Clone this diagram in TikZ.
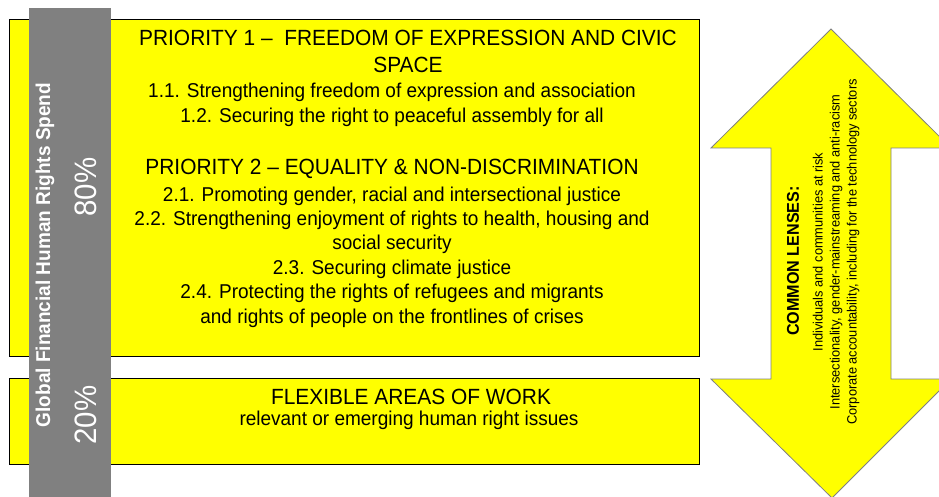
\documentclass[tikz,border=0pt]{standalone}
\usepackage{fontspec}
\setmainfont{Liberation Sans}[FakeStretch=0.95]
\definecolor{areayellow}{HTML}{FFFF00}
\definecolor{spendgray}{HTML}{808080}
\tikzset{
  areabox/.style={draw=black, line width=0.8pt, fill=areayellow},
  headtext/.style={align=center, inner sep=0pt, font=\fontsize{22}{27}\selectfont},
  itemtext/.style={align=center, inner sep=0pt, font=\fontsize{20}{24.4}\selectfont},
  spendtext/.style={rotate=90, inner sep=0pt, text=white},
  lenstext/.style={rotate=90, inner sep=0pt, align=center}
}
\begin{document}
\begin{tikzpicture}[x=1pt,y=-1pt]
\clip (0,0) rectangle (939,497);
\fill[white] (0,0) rectangle (939,497);
% the two areas of work
\draw[areabox] (9,19) rectangle (699,356);
\draw[areabox] (9,378) rectangle (699,464);
% spend bar
\fill[spendgray] (29,8) rectangle (111,500);
\node[spendtext, font=\bfseries\fontsize{20}{22}\selectfont] (spend) at (45,255)
  {Global Financial Human Rights Spend};
\node[spendtext, font=\fontsize{31}{34}\selectfont] (share80) at (86,187) {80\%};
\node[spendtext, font=\fontsize{31}{34}\selectfont] (share20) at (86,415) {20\%};
% priorities
\node[headtext] (pri1head) at (408,51)
  {PRIORITY 1 –~~FREEDOM OF EXPRESSION AND CIVIC\\SPACE};
\node[itemtext] (pri1items) at (392,105)
  {1.1. Strengthening freedom of expression and association\\
   1.2. Securing the right to peaceful assembly for all};
\node[headtext] (pri2head) at (392,169)
  {PRIORITY 2 – EQUALITY \& NON-DISCRIMINATION};
\node[itemtext] (pri2items) at (392,257)
  {2.1. Promoting gender, racial and intersectional justice\\
   2.2. Strengthening enjoyment of rights to health, housing and\\
   social security\\
   2.3. Securing climate justice\\
   2.4. Protecting the rights of refugees and migrants\\
   and rights of people on the frontlines of crises};
\node[headtext] (flexhead) at (411,397) {FLEXIBLE AREAS OF WORK};
\node[itemtext] (flexitem) at (409,420) {relevant or emerging human right issues};
% common lenses arrow
\draw[spendgray, line width=0.8pt, fill=areayellow]
  (831,29) -- (951,148) -- (891,148) -- (891,379) -- (951,379) -- (832,498)
  -- (711,379) -- (771,379) -- (771,148) -- (711,148) -- cycle;
\node[lenstext, font=\bfseries\fontsize{17}{20}\selectfont] (lenshead) at (793,261)
  {COMMON LENSES:};
\node[lenstext, font=\fontsize{13.5}{17}\selectfont] (lensitems) at (836,252)
  {Individuals and communities at risk\\
   Intersectionality, gender-mainstreaming and anti-racism\\
   Corporate accountability, including for the technology sectors};
\end{tikzpicture}
\end{document}
